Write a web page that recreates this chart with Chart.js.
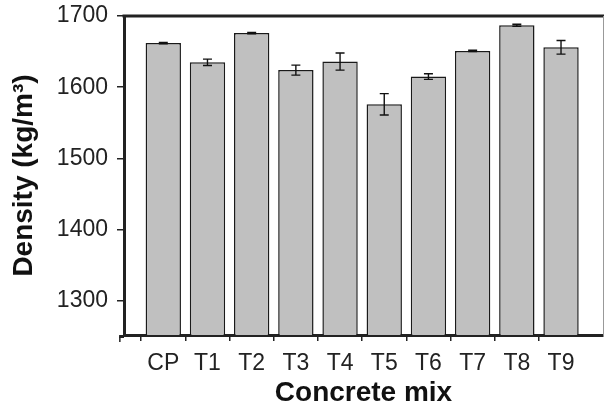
<!DOCTYPE html>
<html>
<head>
<meta charset="utf-8">
<script src="https://cdn.jsdelivr.net/npm/chart.js@4.4.1/dist/chart.umd.min.js"></script>
<style>
  html, body { margin: 0; padding: 0; background: #fff; }
  #wrap { width: 604px; height: 406px; }
</style>
</head>
<body>
<div id="wrap"><canvas id="densityChart" width="604" height="406"></canvas></div>
<script>
// concrete mixes and their measured density (kg/m3), with +/- error
const mixes = ["CP", "T1", "T2", "T3", "T4", "T5", "T6", "T7", "T8", "T9"];
const density = [1662, 1635, 1676, 1624, 1636, 1576, 1615, 1651, 1687, 1656];
const densityErr = [1, 4.5, 1, 7, 12, 15, 4, 1, 1.5, 9.5];
const yTicks = [1300, 1400, 1500, 1600, 1700];

const FONT = "'Liberation Sans', Arial, sans-serif";
const INK = "#222";

// error bars drawn over the bars, through the chart's own scales
const errorBars = {
  id: "errorBars",
  afterDatasetsDraw(chart) {
    const { ctx, scales: { x, y } } = chart;
    ctx.save();
    ctx.strokeStyle = "#111";
    ctx.lineWidth = 1.4;
    density.forEach((v, i) => {
      const px = x.getPixelForValue(i);
      const top = y.getPixelForValue(v + densityErr[i]);
      const bot = y.getPixelForValue(v - densityErr[i]);
      ctx.beginPath();
      ctx.moveTo(px, top); ctx.lineTo(px, bot);
      ctx.moveTo(px - 4.5, top); ctx.lineTo(px + 4.5, top);
      ctx.moveTo(px - 4.5, bot); ctx.lineTo(px + 4.5, bot);
      ctx.stroke();
    });
    ctx.restore();
  }
};

// top frame line, thin right edge, and the x axis stub left of the y axis
const frame = {
  id: "frame",
  afterDraw(chart) {
    const { ctx, chartArea: a, scales: { x } } = chart;
    ctx.save();
    ctx.strokeStyle = INK;
    ctx.lineWidth = 3;
    ctx.beginPath();
    ctx.moveTo(a.left - 1.5, a.top);
    ctx.lineTo(chart.width, a.top);
    ctx.stroke();

    ctx.strokeStyle = "#999";
    ctx.lineWidth = 1;
    ctx.beginPath();
    ctx.moveTo(a.right + 0.5, a.top);
    ctx.lineTo(a.right + 0.5, a.bottom);
    ctx.stroke();

    const stub = x.getPixelForValue(-1);
    ctx.strokeStyle = INK;
    ctx.lineWidth = 3;
    ctx.beginPath();
    ctx.moveTo(stub, a.bottom + 1.5);
    ctx.lineTo(a.left, a.bottom + 1.5);
    ctx.stroke();
    ctx.lineWidth = 1.5;
    ctx.beginPath();
    ctx.moveTo(stub + 0.75, a.bottom + 1.5);
    ctx.lineTo(stub + 0.75, a.bottom + 7);
    ctx.stroke();
    ctx.restore();
  }
};

new Chart(document.getElementById("densityChart"), {
  type: "bar",
  data: {
    datasets: [{
      data: density.map((v, i) => ({ x: i, y: v })),
      backgroundColor: "#c0c0c0",
      borderColor: "#1a1a1a",
      borderWidth: 1.5,
      barPercentage: 0.8,
      categoryPercentage: 1
    }]
  },
  options: {
    responsive: false,
    animation: false,
    layout: { padding: { top: 16, right: 1, left: 0, bottom: 0 } },
    plugins: { legend: { display: false }, tooltip: { enabled: false } },
    scales: {
      x: {
        type: "linear",
        min: -0.889,
        max: 9.95,
        offset: false,
        afterFit: (s) => { s.height = 71; s.paddingLeft = 0; s.paddingRight = 0; },
        afterBuildTicks: (s) => {
          s.ticks = mixes.map((m, i) => ({ value: i }));
        },
        ticks: {
          autoSkip: false,
          maxRotation: 0,
          padding: 9,
          color: INK,
          font: { family: FONT, size: 23 },
          callback: (val) => mixes[val] ?? ""
        },
        grid: {
          drawOnChartArea: false,
          tickLength: 6,
          lineWidth: 1.5,
          color: (c) => (c.tick && Number.isInteger(c.tick.value) ? INK : "rgba(0,0,0,0)")
        },
        border: { color: INK, width: 3 },
        title: {
          display: true,
          text: "Concrete mix",
          color: "#111",
          font: { family: FONT, size: 28, weight: "bold" },
          padding: { top: 0, bottom: -4 }
        }
      },
      y: {
        min: 1252,
        max: 1700,
        afterFit: (s) => { s.width = 124; s.paddingTop = 0; s.paddingBottom = 0; },
        afterBuildTicks: (s) => {
          s.ticks = yTicks.map(v => ({ value: v }));
        },
        ticks: {
          padding: 9,
          color: INK,
          font: { family: FONT, size: 23 },
          callback: (val) => String(val)
        },
        grid: { drawOnChartArea: false, tickLength: 7, color: INK, lineWidth: 1.5 },
        border: { color: INK, width: 3 },
        title: {
          display: true,
          text: "Density (kg/m³)",
          color: "#111",
          font: { family: FONT, size: 28, weight: "bold" },
          padding: { top: 7, bottom: 0 }
        }
      }
    }
  },
  plugins: [errorBars, frame]
});
</script>
</body>
</html>
